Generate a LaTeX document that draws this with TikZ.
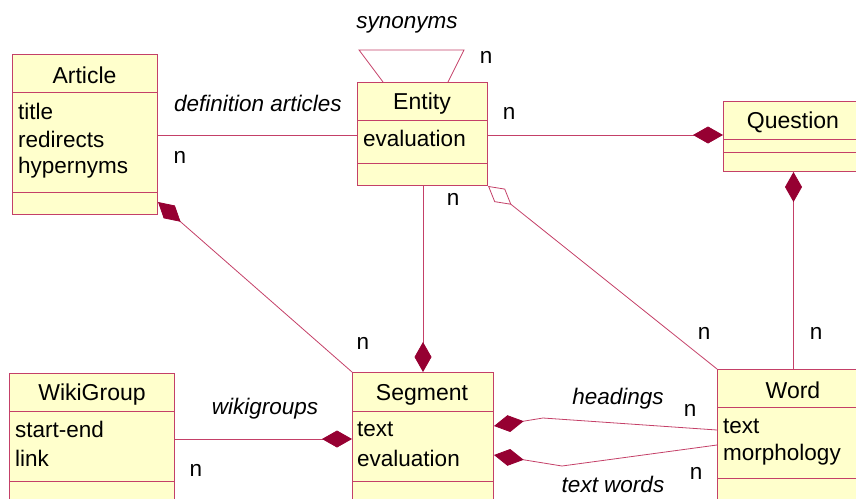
\documentclass[tikz,border=0pt]{standalone}
\usepackage{fontspec}
\setmainfont{Liberation Sans}
\usetikzlibrary{arrows.meta}
\definecolor{umlfill}{RGB}{255,255,204}
\definecolor{umlline}{RGB}{196,64,104}
\definecolor{dia}{RGB}{150,0,50}
\begin{document}
\begin{tikzpicture}[x=1pt,y=-1pt,
  box/.style={draw=umlline, fill=umlfill, line width=1pt, inner sep=0pt, anchor=north west},
  sep/.style={draw=umlline, line width=1pt},
  ttl/.style={font=\fontsize{23}{27}\selectfont, inner sep=0pt},
  attr/.style={font=\fontsize{22.5}{27}\selectfont, inner sep=0pt, anchor=west},
  lbl/.style={font=\fontsize{22.5}{27}\selectfont\itshape, inner sep=0pt},
  card/.style={font=\fontsize{22.5}{27}\selectfont, inner sep=0pt},
  conn/.style={draw=umlline, line width=0.8pt},
  comp/.style={conn, {Diamond[length=30pt,width=17pt,fill=dia,color=dia]}-},
  aggr/.style={conn, {Diamond[open,length=30pt,width=17pt,fill=white]}-},
]
\useasboundingbox (0,0) rectangle (856,498);
\clip (0,0) rectangle (856,498);

\coordinate (hbend) at (543,418);
\coordinate (tbend) at (562,466);
\coordinate (synL) at (359,50);
\coordinate (synR) at (464,50);

% boxes
\node[box, minimum width=145pt, minimum height=160pt] (article) at (12,54) {};
\draw[sep] (article.west |- 0,92) -- (article.east |- 0,92);
\draw[sep] (article.west |- 0,192) -- (article.east |- 0,192);
\node[ttl] (articleT) at (84.5,75.5) {Article};
\node[attr] (a1) at (18,111.5) {title};
\node[attr] (a2) at (18,139.5) {redirects};
\node[attr] (a3) at (18,167.5) {hypernyms};

\node[box, minimum width=130pt, minimum height=103pt] (entity) at (357,82) {};
\draw[sep] (entity.west |- 0,120) -- (entity.east |- 0,120);
\draw[sep] (entity.west |- 0,163) -- (entity.east |- 0,163);
\node[ttl] (entityT) at (422,103.5) {Entity};
\node[attr] (e1) at (363,138.5) {evaluation};

\node[box, minimum width=140pt, minimum height=70pt] (question) at (723,101) {};
\draw[sep] (question.west |- 0,139) -- (question.east |- 0,139);
\draw[sep] (question.west |- 0,152) -- (question.east |- 0,152);
\node[ttl] (questionT) at (793,122.5) {Question};

\node[box, minimum width=165pt, minimum height=140pt] (wikigroup) at (9,373) {};
\draw[sep] (wikigroup.west |- 0,411) -- (wikigroup.east |- 0,411);
\draw[sep] (wikigroup.west |- 0,481) -- (wikigroup.east |- 0,481);
\node[ttl] (wikigroupT) at (92,394.5) {WikiGroup};
\node[attr] (w1) at (15,429.5) {start-end};
\node[attr] (w2) at (15,458.5) {link};

\node[box, minimum width=141pt, minimum height=140pt] (segment) at (352,372) {};
\draw[sep] (segment.west |- 0,411) -- (segment.east |- 0,411);
\draw[sep] (segment.west |- 0,481) -- (segment.east |- 0,481);
\node[ttl] (segmentT) at (422,394.5) {Segment};
\node[attr] (s1) at (357,429.5) {text};
\node[attr] (s2) at (357,458.5) {evaluation};

\node[box, minimum width=152pt, minimum height=140pt] (word) at (717,369) {};
\draw[sep] (word.west |- 0,407) -- (word.east |- 0,407);
\draw[sep] (word.west |- 0,478) -- (word.east |- 0,478);
\node[ttl] (wordT) at (793,390.5) {Word};
\node[attr] (wd1) at (723,426.5) {text};
\node[attr] (wd2) at (723,454.5) {morphology};

% connectors
\draw[conn] (article.east |- 0,135) -- (entity.west |- 0,135);
\draw[comp] (question.west |- 0,135) -- (entity.east |- 0,135);
\draw[comp] (question.south) -- (word.north);
\draw[comp] (segment.north) -- (segment.north |- entity.south);
\draw[aggr] (entity.south east) -- (word.north west);
\draw[comp] (article.east |- 0,202) -- (segment.north west);
\draw[comp] (segment.west |- 0,439) -- (wikigroup.east |- 0,439);
\draw[comp] (segment.east |- 0,426) -- (hbend) -- (word.west |- 0,430);
\draw[comp] (segment.east |- 0,455) -- (tbend) -- (word.west |- 0,445);
\draw[conn] (entity.north -| 383,0) -- (synL) -- (synR) -- (entity.north -| 448,0);

% labels
\node[lbl] (l1) at (258,103.5) {definition articles};
\node[lbl] (l2) at (407,24.5) {synonyms};
\node[lbl] (l3) at (265,408.5) {wikigroups};
\node[lbl] (l4) at (618,398.5) {headings};
\node[lbl] (l5) at (613,484.5) {text words};

% cardinalities
\node[card] (n1) at (180,157) {n};
\node[card] (n2) at (486,57) {n};
\node[card] (n3) at (509,113) {n};
\node[card] (n4) at (453,199) {n};
\node[card] (n5) at (363,343) {n};
\node[card] (n6) at (196,470) {n};
\node[card] (n7) at (704,333) {n};
\node[card] (n8) at (816,333) {n};
\node[card] (n9) at (690,410) {n};
\node[card] (n10) at (696,473) {n};
\end{tikzpicture}
\end{document}
